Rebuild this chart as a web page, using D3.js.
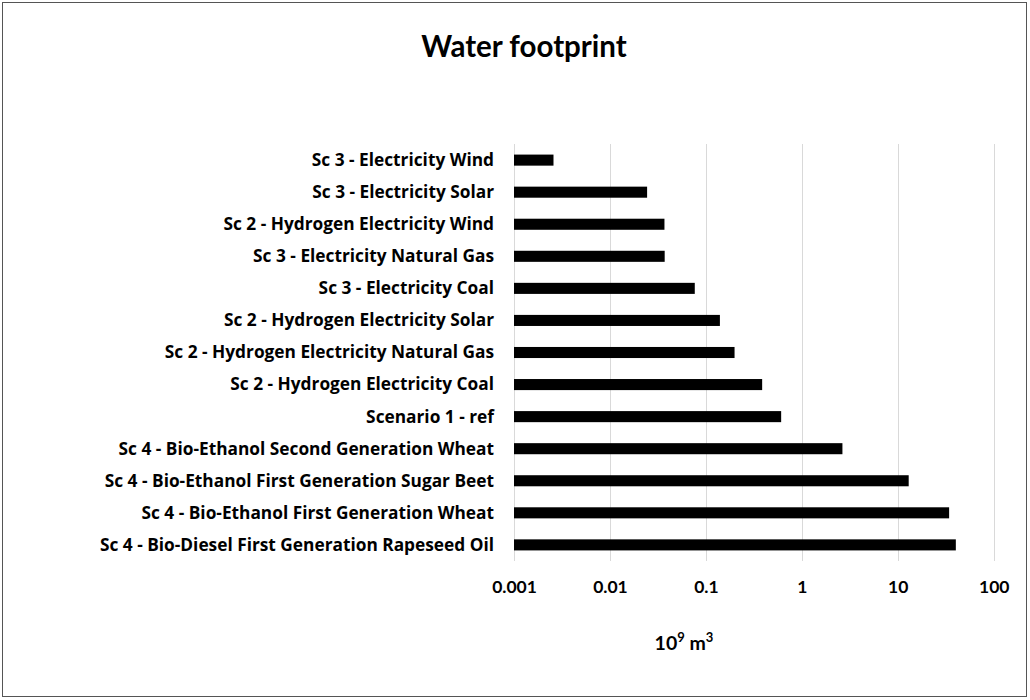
<!DOCTYPE html>
<html><head><meta charset="utf-8">
<script src="https://cdn.jsdelivr.net/npm/d3@7"></script>
<style>body{margin:0;background:#fff}svg{display:block}text{font-family:Lato,"Open Sans",sans-serif;font-weight:bold;fill:#000}</style>
</head><body>
<svg id="c" width="1030" height="700"></svg>
<script>
const categories = [
  "Sc 3 - Electricity Wind",
  "Sc 3 - Electricity Solar",
  "Sc 2 - Hydrogen Electricity Wind",
  "Sc 3 - Electricity Natural Gas",
  "Sc 3 - Electricity Coal",
  "Sc 2 - Hydrogen Electricity Solar",
  "Sc 2 - Hydrogen Electricity Natural Gas",
  "Sc 2 - Hydrogen Electricity Coal",
  "Scenario 1 - ref",
  "Sc 4 - Bio-Ethanol Second Generation Wheat",
  "Sc 4 - Bio-Ethanol First Generation Sugar Beet",
  "Sc 4 - Bio-Ethanol First Generation Wheat",
  "Sc 4 - Bio-Diesel First Generation Rapeseed Oil"
];
const values = [0.00258, 0.0244, 0.037, 0.0372, 0.0766, 0.14, 0.199, 0.386, 0.609, 2.65, 13.0, 34.3, 40.3];
const tickValues = [0.001, 0.01, 0.1, 1, 10, 100];
const tickLabels = ["0.001", "0.01", "0.1", "1", "10", "100"];

const svg = d3.select("#c");
svg.append("rect").attr("x",2.5).attr("y",2.5).attr("width",1024).attr("height",694)
  .attr("fill","#fff").attr("stroke","#555").attr("stroke-width",1);

const L = 514, R = 993.7, T = 144, B = 561;
const x = d3.scaleLog().domain([0.001, 100]).range([L, R]);
const y = d3.scaleBand().domain(categories).range([T, B]).paddingInner(0.655).paddingOuter(0.33);

// gridlines
svg.append("g").selectAll("line").data(tickValues).join("line")
  .attr("x1", d => Math.round(x(d)) + 0.5).attr("x2", d => Math.round(x(d)) + 0.5)
  .attr("y1", T).attr("y2", B).attr("stroke", "#d9d9d9").attr("stroke-width", 1);

// bars
svg.append("g").selectAll("rect").data(values).join("rect")
  .attr("x", x(0.001)).attr("y", (d,i) => y(categories[i]))
  .attr("width", d => x(d) - x(0.001)).attr("height", y.bandwidth())
  .attr("fill", "#000");

// y axis labels
const yAxis = d3.axisLeft(y).tickSize(0).tickPadding(20);
const gy = svg.append("g").attr("transform", `translate(${L},0)`).call(yAxis);
gy.select(".domain").remove();
gy.selectAll("text").style("font-size","17.3px").style("font-family","'Open Sans', Lato, sans-serif").style("font-weight","bold").attr("fill","#000").attr("dy","0.34em");

// x axis labels
const xAxis = d3.axisBottom(x).tickValues(tickValues).tickFormat((d,i) => tickLabels[i]).tickSize(0).tickPadding(20);
const gx = svg.append("g").attr("transform", `translate(0,${B})`).call(xAxis);
gx.select(".domain").remove();
gx.selectAll("text").style("font-size","17.5px").style("font-family","Lato, 'Open Sans', sans-serif").style("font-weight","bold").attr("fill","#000");

// title
svg.append("text").attr("x", 524).attr("y", 57).attr("text-anchor","middle")
  .style("font-size","29.5px").text("Water footprint");

// axis title
const at = svg.append("text").attr("x", 684).attr("y", 650).attr("text-anchor","middle").style("font-size","19.5px");
at.append("tspan").text("10");
at.append("tspan").attr("dy",-8).style("font-size","13px").text("9");
at.append("tspan").attr("dy",8).text(" m");
at.append("tspan").attr("dy",-8).style("font-size","13px").text("3");
</script>
</body></html>
